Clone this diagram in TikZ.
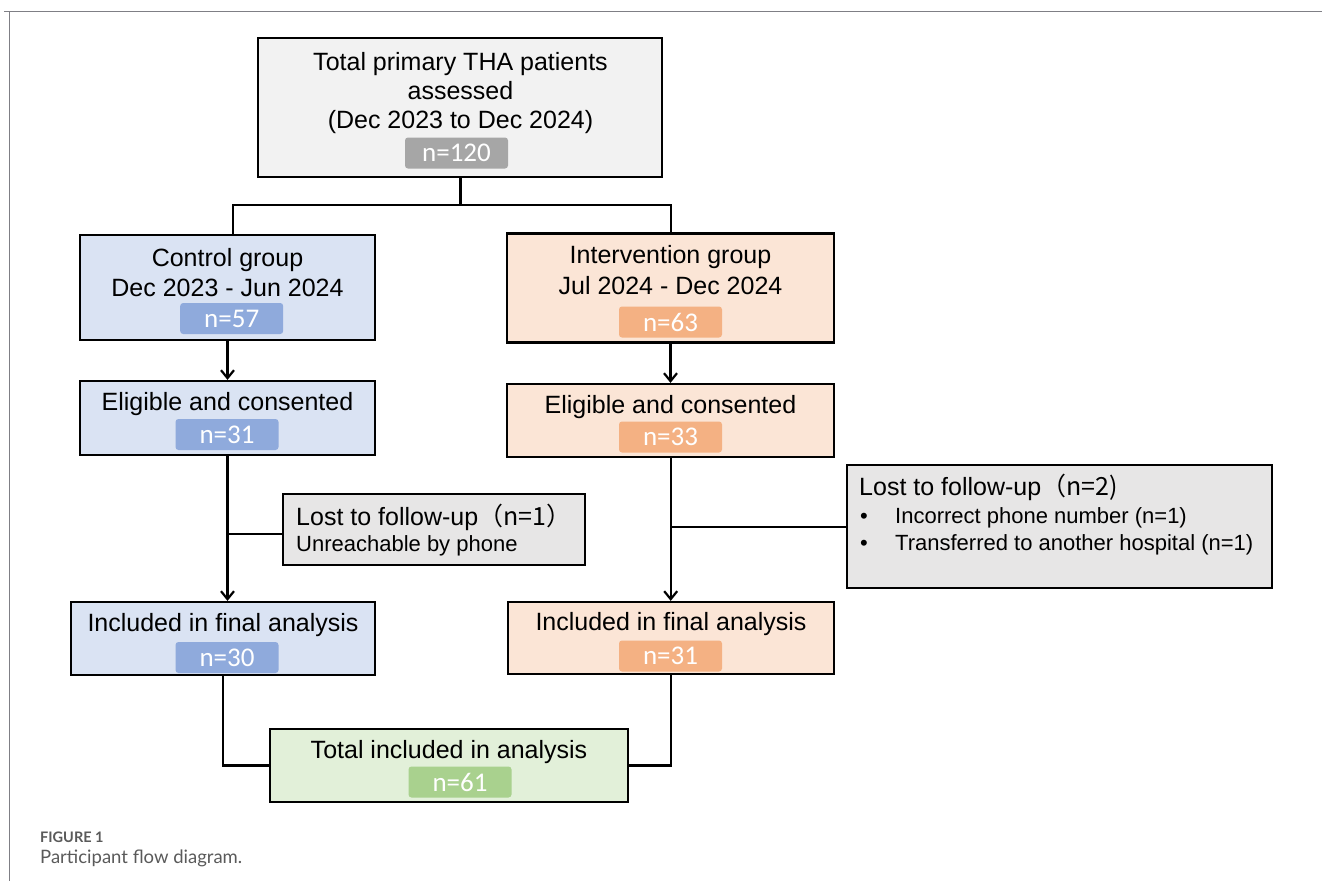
\documentclass[tikz,border=0pt]{standalone}
\usepackage{fontspec}
\setmainfont{Liberation Sans}
\newfontfamily\badgefont{Carlito}
\newfontfamily\capfont{Lato}
\newfontfamily\cjk{Noto Sans CJK SC}
\usetikzlibrary{arrows.meta}
\definecolor{topfill}{HTML}{F2F2F2}
\definecolor{topbadge}{HTML}{A6A6A6}
\definecolor{bluefill}{HTML}{DAE3F3}
\definecolor{bluebadge}{HTML}{8FAADC}
\definecolor{orangefill}{HTML}{FBE5D6}
\definecolor{orangebadge}{HTML}{F4B183}
\definecolor{lostfill}{HTML}{E7E6E6}
\definecolor{greenfill}{HTML}{E2F0D9}
\definecolor{greenbadge}{HTML}{A9D18E}
\definecolor{framecol}{HTML}{7F7F85}
\definecolor{capcol}{HTML}{5A5A5A}
\tikzset{
  box/.style={draw=black, line width=2.2pt, inner sep=0pt},
  badge/.style={rounded corners=3pt, inner sep=0pt, minimum width=103pt, minimum height=31pt,
    text=white, font=\badgefont\fontsize{27}{30}\selectfont},
  txt/.style={inner sep=0pt, anchor=base, font=\fontsize{25}{29}\selectfont},
  smalltxt/.style={inner sep=0pt, anchor=base west, font=\fontsize{22}{26}\selectfont},
  conn/.style={draw=black, line width=2.2pt},
  arr/.style={conn, -{Straight Barb[length=8pt,width=13pt,line width=2.2pt]}},
}
\begin{document}
\begin{tikzpicture}[x=1pt,y=-1pt]
\useasboundingbox (0,0) rectangle (1322,881);
\fill[white] (0,0) rectangle (1322,881);
% frame
\draw[framecol, line width=1.5pt] (4,11.5) -- (1322,11.5);
\draw[framecol, line width=1.5pt] (9.3,11.5) -- (9.3,881);

% top box
\node[box, fill=topfill, minimum width=404pt, minimum height=139pt] (top) at (460,107.5) {};
\node[txt] (t1) at (460.5,70) {Total primary THA patients};
\node[txt] (t2) at (460.5,99) {assessed};
\node[txt] (t3) at (460.5,128) {(Dec 2023 to Dec 2024)};
\node[badge, fill=topbadge] (b120) at (456.5,153) {n=120};

% control
\node[box, fill=bluefill, minimum width=295pt, minimum height=105pt] (ctrl) at (227.5,287.5) {};
\node[txt] (c1) at (227.5,266) {Control group};
\node[txt] (c2) at (227.5,296) {Dec 2023 - Jun 2024};
\node[badge, fill=bluebadge] (b57) at (231.7,318.5) {n=57};

% intervention
\node[box, fill=orangefill, minimum width=327pt, minimum height=109pt] (intv) at (670.5,288) {};
\node[txt] (i1) at (670.5,263.5) {Intervention group};
\node[txt] (i2) at (670.5,294) {Jul 2024 - Dec 2024};
\node[badge, fill=orangebadge] (b63) at (670.5,322) {n=63};

% eligible
\node[box, fill=bluefill, minimum width=295pt, minimum height=74pt] (elig1) at (227.5,418) {};
\node[txt] (e1) at (227.5,410.7) {Eligible and consented};
\node[badge, fill=bluebadge] (b31a) at (227,434.5) {n=31};

\node[box, fill=orangefill, minimum width=327pt, minimum height=73pt] (elig2) at (670.5,420.5) {};
\node[txt] (e2) at (670.5,413) {Eligible and consented};
\node[badge, fill=orangebadge] (b33) at (670.5,437) {n=33};

% lost boxes
\node[box, fill=lostfill, minimum width=302pt, minimum height=71pt] (lost1) at (434,529.7) {};
\node[txt, anchor=base west] (l1a) at (296,525) {Lost to follow-up\cjk{（}n=1\cjk{）}};
\node[smalltxt] (l1b) at (296,551.7) {Unreachable by phone};

\node[box, fill=lostfill, minimum width=425pt, minimum height=123pt] (lost2) at (1059.5,526.5) {};
\node[txt, anchor=base west] (l2a) at (859,495) {Lost to follow-up\cjk{（}n=2)};
\node[smalltxt] (l2b) at (860,523) {\textbullet};
\node[smalltxt] (l2c) at (895,523) {Incorrect phone number (n=1)};
\node[smalltxt] (l2d) at (860,550) {\textbullet};
\node[smalltxt] (l2e) at (895,550) {Transferred to another hospital (n=1)};

% included
\node[box, fill=bluefill, minimum width=304pt, minimum height=73pt] (incl1) at (223,638.5) {};
\node[txt] (n1) at (223,631.7) {Included in final analysis};
\node[badge, fill=bluebadge] (b30) at (227,657.5) {n=30};

\node[box, fill=orangefill, minimum width=326pt, minimum height=72pt] (incl2) at (671,638) {};
\node[txt] (n2) at (671,630) {Included in final analysis};
\node[badge, fill=orangebadge] (b31b) at (670.5,656) {n=31};

% total
\node[box, fill=greenfill, minimum width=358pt, minimum height=73pt] (total) at (449,765.5) {};
\node[txt] (tt) at (449,758) {Total included in analysis};
\node[badge, fill=greenbadge] (b61) at (460,782) {n=61};

% connectors
\coordinate (split) at (460.5,205);
\coordinate (sl) at (233,205);
\coordinate (sr) at (670.7,205);
\draw[conn] (top.south -| split) -- (split);
\draw[conn] (sl |- ctrl.north) -- (sl) -- (sr) -- (sr |- intv.north);
\draw[arr] (ctrl.south) -- (elig1.north);
\draw[arr] (intv.south) -- (elig2.north);
\coordinate (b1) at (227.5,534);
\draw[arr] (elig1.south) -- (elig1.south |- incl1.north);
\draw[conn] (b1) -- (b1 -| lost1.west);
\coordinate (b2) at (670.7,527);
\draw[arr] (elig2.south -| b2) -- (b2 |- incl2.north);
\draw[conn] (b2) -- (b2 -| lost2.west);
\draw[conn] (incl1.south) -- (incl1.south |- total.west) -- (total.west);
\draw[conn] (incl2.south -| b2) -- (b2 |- total.east) -- (total.east);

% caption
\node[inner sep=0pt, anchor=base west, text=capcol, font=\capfont\bfseries\fontsize{14.5}{16}\selectfont] (cap1) at (40,842) {FIGURE 1};
\node[inner sep=0pt, anchor=base west, text=capcol, font=\capfont\fontsize{18.5}{21}\selectfont] (cap2) at (40,863) {Participant flow diagram.};
\end{tikzpicture}
\end{document}
